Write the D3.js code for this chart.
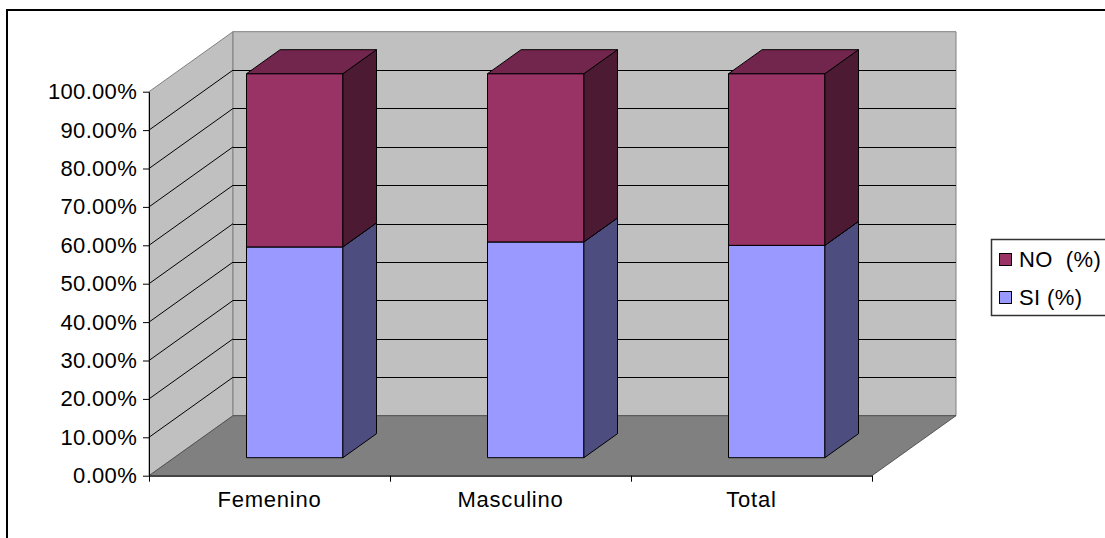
<!DOCTYPE html>
<html>
<head>
<meta charset="utf-8">
<script src="https://cdn.jsdelivr.net/npm/d3@7"></script>
<style>
  body { margin: 0; background: #fff; }
  text { font-family: "Liberation Sans", Arial, sans-serif; }
</style>
</head>
<body>
<div id="chart"></div>
<script>
//data
var categories = ["Femenino", "Masculino", "Total"];
var siValues = [54.9, 56.2, 55.3];
var noValues = [45.1, 43.8, 44.7];
var yTicks = [0, 10, 20, 30, 40, 50, 60, 70, 80, 90, 100];
var legendNames = ["NO  (%)", "SI (%)"];

//sizes
var width = 1105, height = 538;
var front = { left: 149, right: 872, top: 91.7, bottom: 475.7 };
var depthX = 84, depthY = 60;

var svg = d3.select("#chart").append("svg")
    .attr("width", width)
    .attr("height", height);

//outer frame
svg.append("rect")
    .attr("x", 7).attr("y", 10)
    .attr("width", 1200).attr("height", 600)
    .attr("fill", "#fff")
    .attr("stroke", "#000")
    .attr("stroke-width", 2);

var y = d3.scaleLinear().domain([0, 100]).range([front.bottom, front.top]);
var xBand = d3.scaleBand().domain(categories).range([front.left, front.right])
    .paddingInner(0.6).paddingOuter(0.3);
var xCat = d3.scaleBand().domain(categories).range([front.left, front.right]);
var xTickScale = d3.scaleLinear().domain([0, categories.length]).range([front.left, front.right]);

//project a point with depth z (0 = front, 1 = back)
function proj(px, v, z) {
  return [px + z * depthX, y(v) - z * depthY];
}
function poly(pts) {
  return "M" + pts.map(function(p){ return p[0] + "," + p[1]; }).join("L") + "Z";
}

//walls and floor
var walls = svg.append("g");
walls.append("path")
    .attr("d", poly([proj(front.left, 0, 0), proj(front.left, 0, 1), proj(front.left, 100, 1), proj(front.left, 100, 0)]))
    .attr("fill", "#c0c0c0").attr("stroke", "#808080");
walls.append("path")
    .attr("d", poly([proj(front.left, 0, 1), proj(front.right, 0, 1), proj(front.right, 100, 1), proj(front.left, 100, 1)]))
    .attr("fill", "#c0c0c0").attr("stroke", "#808080");
walls.append("path")
    .attr("d", poly([proj(front.left, 0, 0), proj(front.right, 0, 0), proj(front.right, 0, 1), proj(front.left, 0, 1)]))
    .attr("fill", "#808080").attr("stroke", "#444").attr("stroke-width", 0.8);

//gridlines on the back wall and the side wall
var gridTicks = yTicks.filter(function(d){ return d > 0 && d < 100; });
walls.selectAll(".gback").data(gridTicks).join("line")
    .attr("class", "gback")
    .attr("x1", proj(front.left, 0, 1)[0]).attr("x2", proj(front.right, 0, 1)[0])
    .attr("y1", function(d){ return Math.round(proj(0, d, 1)[1]) + 0.5; })
    .attr("y2", function(d){ return Math.round(proj(0, d, 1)[1]) + 0.5; })
    .attr("stroke", "#000");
walls.selectAll(".gside").data(gridTicks).join("line")
    .attr("class", "gside")
    .attr("x1", front.left).attr("x2", proj(front.left, 0, 1)[0])
    .attr("y1", function(d){ return y(d); })
    .attr("y2", function(d){ return proj(0, d, 1)[1]; })
    .attr("stroke", "#000");

//bars
var z0 = 0.3, z1 = 0.7;
function shade(c, k) {
  var r = d3.rgb(c);
  return d3.rgb(r.r * k, r.g * k, r.b * k).toString();
}
function prism(g, xa, xb, va, vb, color) {
  //front face
  g.append("path")
      .attr("d", poly([proj(xa, va, z0), proj(xb, va, z0), proj(xb, vb, z0), proj(xa, vb, z0)]))
      .attr("fill", color).attr("stroke", "#000").attr("stroke-linejoin", "round");
  //right side
  g.append("path")
      .attr("d", poly([proj(xb, va, z0), proj(xb, va, z1), proj(xb, vb, z1), proj(xb, vb, z0)]))
      .attr("fill", shade(color, 0.5)).attr("stroke", "#000").attr("stroke-linejoin", "round");
  //top
  g.append("path")
      .attr("d", poly([proj(xa, vb, z0), proj(xb, vb, z0), proj(xb, vb, z1), proj(xa, vb, z1)]))
      .attr("fill", shade(color, 0.75)).attr("stroke", "#000").attr("stroke-linejoin", "round");
}
var bars = svg.append("g");
categories.forEach(function(c, i){
  var g = bars.append("g");
  var xa = xBand(c), xb = xBand(c) + xBand.bandwidth();
  prism(g, xa, xb, 0, siValues[i], "#9999ff");
  prism(g, xa, xb, siValues[i], siValues[i] + noValues[i], "#993366");
});

//axes
var yAxis = d3.axisLeft(y)
    .tickValues(yTicks)
    .tickFormat(function(d){ return d.toFixed(2) + "%"; })
    .tickSize(6).tickPadding(6).tickSizeOuter(0);
var gy = svg.append("g").attr("transform", "translate(" + front.left + ",0)").call(yAxis);
gy.selectAll("text").attr("font-size", 22).attr("font-family", "Liberation Sans, Arial, sans-serif")
    .attr("fill", "#000").attr("letter-spacing", 0.3);
gy.selectAll("line, path").attr("stroke", "#000");

var xTicks = d3.axisBottom(xTickScale).tickValues(d3.range(categories.length + 1))
    .tickFormat("").tickSize(6).tickSizeOuter(0);
var gx = svg.append("g").attr("transform", "translate(0," + front.bottom + ")").call(xTicks);
gx.selectAll("line, path").attr("stroke", "#000");

var xLabels = d3.axisBottom(xCat).tickSize(0).tickPadding(16);
var gl = svg.append("g").attr("transform", "translate(0," + front.bottom + ")").call(xLabels);
gl.select(".domain").remove();
gl.selectAll("text").attr("font-size", 22).attr("font-family", "Liberation Sans, Arial, sans-serif")
    .attr("fill", "#000").attr("letter-spacing", 0.8);

//legend
var legendColors = ["#993366", "#9999ff"];
var legend = svg.append("g");
legend.append("rect")
    .attr("x", 991.5).attr("y", 239.5).attr("width", 200).attr("height", 76)
    .attr("fill", "#fff").attr("stroke", "#333").attr("stroke-width", 1.5);
var items = legend.selectAll(".item").data(legendNames).join("g")
    .attr("class", "item")
    .attr("transform", function(d, i){ return "translate(999," + (253 + i * 38) + ")"; });
items.append("rect")
    .attr("x", 0.5).attr("y", 0.5).attr("width", 12).attr("height", 12)
    .attr("fill", function(d, i){ return legendColors[i]; })
    .attr("stroke", "#000");
items.append("text")
    .attr("x", 20).attr("y", 13.5)
    .attr("font-size", 22)
    .attr("letter-spacing", 0.4)
    .attr("xml:space", "preserve")
    .style("white-space", "pre")
    .text(function(d){ return d; });
</script>
</body>
</html>
